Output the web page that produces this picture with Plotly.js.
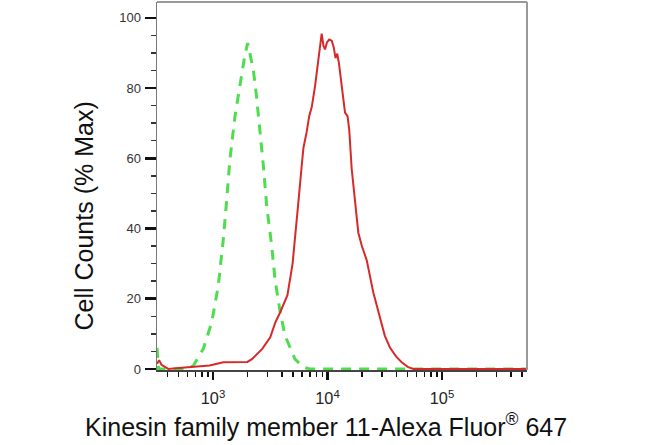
<!DOCTYPE html>
<html>
<head>
<meta charset="utf-8">
<script src="https://cdn.plot.ly/plotly-3.0.1.min.js"></script>
<style>
html,body{margin:0;padding:0;background:#fff;}
#chart{width:650px;height:445px;}
</style>
</head>
<body>
<div id="chart"></div>
<script>
// Isotype control (green dashed)
const controlIntensity = [324.3, 335, 569, 673, 822, 975, 1112, 1230, 1318, 1406, 1556, 1722, 1901, 2009, 2099, 2249, 2399, 2570, 2754, 2944, 3258, 3475, 3846, 4256, 5200, 6152, 6998, 552077];
const controlCounts    = [6, 0, 0, 0.9, 5.7, 13.3, 23.7, 36.9, 48.3, 59.7, 72, 81.4, 89.5, 92.8, 90, 85.2, 77.6, 68.2, 57.8, 46.4, 35, 25.6, 16.5, 9.5, 2.8, 0.5, 0, 0];

// Kinesin family member 11 stained sample (red)
const sampleIntensity = [324.3, 338.8, 354.8, 407.4, 501.2, 631, 933, 1230, 1479, 1995, 2188, 2692, 3162, 3508, 3846, 4467, 4955, 5248, 5623, 5957, 6166, 6577, 6918, 7278, 7780, 8318, 8892, 9226, 9506, 9886, 10351, 10889, 11350, 11749, 12162, 12589, 13305, 14223, 14962, 15488, 16255, 17378, 18578, 19953, 21979, 25119, 28708, 31623, 35156, 39811, 44463, 50119, 56105, 552077];
const sampleCounts    = [1.5, 2.5, 1.2, 0, 0.3, 0.6, 1.0, 1.9, 2.0, 2.0, 2.8, 5.7, 9.0, 13.3, 16, 21, 30, 38, 49, 58, 63, 67.5, 72, 74.5, 80.5, 88, 95.5, 92, 91, 93, 93.8, 93.5, 91.5, 88.5, 89.8, 87, 80, 73, 72, 68, 57, 47.3, 38.8, 35, 31, 21.8, 14.2, 9.5, 6, 3.5, 1.9, 0.6, 0, 0];

const traces = [
  {
    x: controlIntensity, y: controlCounts, type: 'scatter', mode: 'lines',
    line: {color: '#4fdc4f', width: 3, dash: '10px,8px', shape: 'linear'},
    hoverinfo: 'skip', showlegend: false
  },
  {
    x: sampleIntensity, y: sampleCounts, type: 'scatter', mode: 'lines',
    line: {color: '#d62a2a', width: 2, shape: 'linear'},
    hoverinfo: 'skip', showlegend: false
  }
];

const layout = {
  width: 650, height: 445,
  margin: {l: 157, r: 123, t: 2, b: 75},
  paper_bgcolor: '#ffffff', plot_bgcolor: '#ffffff',
  font: {family: 'Liberation Sans, Arial, sans-serif', color: '#111'},
  showlegend: false,
  xaxis: {
    type: 'log', range: [2.511, 5.742], autorange: false,
    dtick: 1, tick0: 0,
    exponentformat: 'power', showexponent: 'all',
    showgrid: false, zeroline: false,
    showline: true, linecolor: '#444', linewidth: 1.5,
    ticks: 'outside', ticklen: 8, tickwidth: 2.5, tickcolor: '#111',
    ticklabelstandoff: 6,
    tickfont: {size: 13, color: '#222'},
    minor: {ticks: 'outside', ticklen: 5, tickwidth: 1.5, tickcolor: '#111', dtick: 'D1', showgrid: false}
  },
  yaxis: {
    range: [-0.3, 104.5], autorange: false,
    dtick: 20, tick0: 0,
    showgrid: false, zeroline: false,
    showline: true, linecolor: '#777', linewidth: 1.5,
    ticks: 'outside', ticklen: 11, tickwidth: 2.5, tickcolor: '#111',
    ticklabelstandoff: 1,
    tickfont: {size: 13, color: '#333'},
    minor: {ticks: 'outside', ticklen: 5, tickwidth: 1.5, tickcolor: '#333', dtick: 5, showgrid: false}
  },
  shapes: [
    {type: 'line', xref: 'paper', yref: 'paper', x0: 0, x1: 1, y0: 1, y1: 1, line: {color: '#999', width: 2}},
    {type: 'line', xref: 'paper', yref: 'paper', x0: 1, x1: 1, y0: 0, y1: 1, line: {color: '#999', width: 2}}
  ],
  annotations: [
    {text: 'Kinesin family member 11-Alexa Fluor<sup>®</sup> 647', xref: 'paper', yref: 'paper',
     x: 0.457, y: -0.1495, xanchor: 'center', yanchor: 'middle', showarrow: false,
     font: {size: 25, color: '#111'}},
    {text: 'Cell Counts (% Max)', xref: 'paper', yref: 'paper', textangle: -90,
     x: -0.1986, y: 0.4185, xanchor: 'center', yanchor: 'middle', showarrow: false,
     font: {size: 25, color: '#111'}}
  ]
};

Plotly.newPlot('chart', traces, layout, {staticPlot: true, displayModeBar: false});
</script>
</body>
</html>
